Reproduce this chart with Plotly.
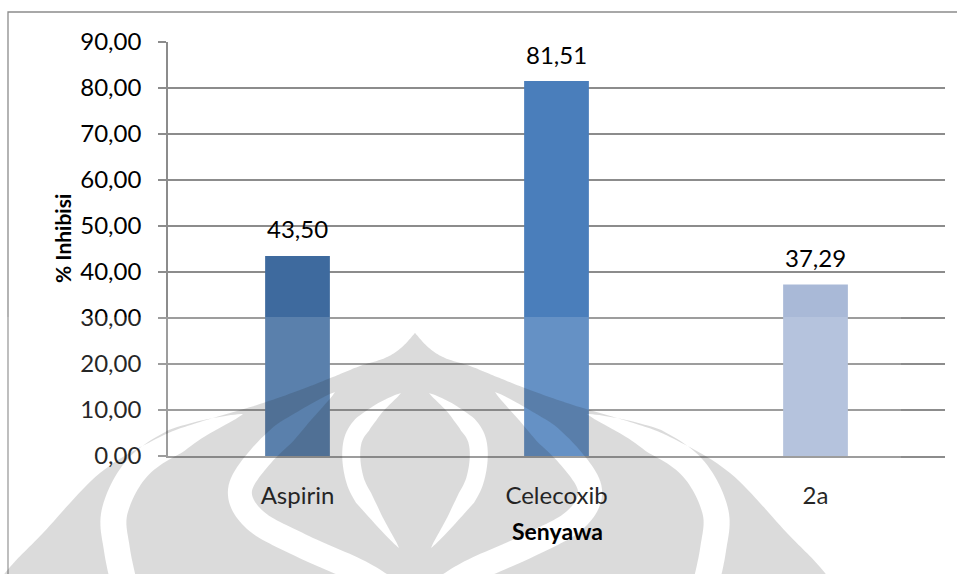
import math
import plotly.graph_objects as go

# Data
categories = ["Aspirin", "Celecoxib", "2a"]
inhibition = [43.50, 81.51, 37.29]
bar_colors = ["#3E6A9E", "#4A7EBB", "#A9B9D7"]
y_ticks = [0, 10, 20, 30, 40, 50, 60, 70, 80, 90]

W, H = 957, 574
PL, PR, PT, PB = 168, 945, 42, 456  # plot area in pixels

FONT = "Lato, Carlito, Calibri, sans-serif"
GRID = "#8c8c8c"


def px(x, y):
    """pixel position -> paper coordinates"""
    return (x - PL) / (PR - PL), (PB - y) / (PB - PT)


def spline(points, n=14):
    """Catmull-Rom curve through the given points"""
    pts = [points[0]] + list(points) + [points[-1]]
    out = []
    for i in range(1, len(pts) - 2):
        p0, p1, p2, p3 = pts[i - 1], pts[i], pts[i + 1], pts[i + 2]
        for k in range(n):
            t = k / n
            t2, t3 = t * t, t * t * t
            out.append(tuple(
                0.5 * (2 * p1[j] + (-p0[j] + p2[j]) * t
                       + (2 * p0[j] - 5 * p1[j] + 4 * p2[j] - p3[j]) * t2
                       + (-p0[j] + 3 * p1[j] - 3 * p2[j] + p3[j]) * t3)
                for j in range(2)))
    out.append(points[-1])
    return out


def ribbon(points, wmax, taper_in=0.2, taper_out=0.0):
    """closed polygon of varying width along a smooth centre line"""
    c = spline(points)
    n = len(c)
    left, right = [], []
    for i, p in enumerate(c):
        a = c[max(i - 1, 0)]
        b = c[min(i + 1, n - 1)]
        dx, dy = b[0] - a[0], b[1] - a[1]
        L = math.hypot(dx, dy) or 1.0
        nx, ny = -dy / L, dx / L
        t = i / (n - 1)
        w = wmax
        if taper_in > 0:
            w *= min(1.0, t / taper_in)
        if taper_out > 0:
            w *= min(1.0, (1 - t) / taper_out)
        w = max(w, 0.0) / 2
        left.append((p[0] + nx * w, p[1] + ny * w))
        right.append((p[0] - nx * w, p[1] - ny * w))
    return left + right[::-1]


def to_path(poly):
    s = []
    for i, (x, y) in enumerate(poly):
        u, v = px(x, y)
        s.append(("M" if i == 0 else "L") + f"{u:.5f},{v:.5f}")
    return " ".join(s) + " Z"


CX = 415


def mirror(pts):
    return [(2 * CX - x, y) for (x, y) in pts]


# watermark emblem: onion-dome silhouette with white swoops cut out (evenodd)
left_edge = [(CX, 333), (CX - 14, 348), (CX - 30, 358), (CX - 55, 366),
             (CX - 82, 377), (CX - 115, 390), (CX - 158, 405), (CX - 215, 422),
             (CX - 255, 437), (CX - 315, 473), (CX - 372, 533), (CX - 405, 567),
             (CX - 430, 600)]
le = spline(left_edge)
silhouette = mirror(le)[::-1][:-1] + le  # right side bottom->apex, then left side apex->bottom
silhouette = le[::-1] + mirror(le)[1:]

swoop_outer = [(CX - 172, 414), (CX - 225, 434), (CX - 275, 465), (CX - 300, 510),
               (CX - 298, 550), (CX - 288, 596)]
swoop_s = [(CX - 80, 392), (CX - 115, 420), (CX - 153, 455), (CX - 175, 490),
           (CX - 160, 520), (CX - 115, 545), (CX - 55, 572), (CX - 20, 594)]
leaf = [(CX - 14, 393), (CX - 40, 412), (CX - 62, 440), (CX - 60, 480),
        (CX - 40, 515), (CX - 16, 548)]

holes = []
for pts, wmax, ti, to in [(swoop_outer, 26, 0.25, 0.0),
                          (swoop_s, 24, 0.2, 0.0),
                          (leaf, 18, 0.3, 0.3)]:
    holes.append(ribbon(pts, wmax, ti, to))
    holes.append(ribbon(mirror(pts), wmax, ti, to))

logo_path = to_path(silhouette) + " " + " ".join(to_path(h) for h in holes)

shapes = [
    # white veil over the lower part
    dict(type="rect", xref="paper", yref="paper",
         x0=px(-20, 0)[0], x1=px(901, 0)[0], y0=px(0, 317)[1], y1=px(0, 600)[1],
         fillcolor="rgba(255,255,255,0.15)", line=dict(width=0), layer="above"),
    dict(type="path", xref="paper", yref="paper", path=logo_path,
         fillcolor="rgba(32,32,32,0.16)", line=dict(width=0), layer="above",
         fillrule="evenodd"),
    # chart frame
    dict(type="rect", xref="paper", yref="paper",
         x0=px(8, 0)[0], x1=px(980, 0)[0], y0=px(0, 600)[1], y1=px(0, 12)[1],
         line=dict(color="#8c8c8c", width=1.3), fillcolor="rgba(0,0,0,0)",
         layer="below"),
]

fig = go.Figure(go.Bar(
    x=categories, y=inhibition, width=0.25,
    marker=dict(color=bar_colors, line=dict(width=0)),
    hoverinfo="skip",
))

annotations = []
for cat, v in zip(categories, inhibition):
    annotations.append(dict(
        x=cat, y=v, xref="x", yref="y", text=f"{v:.2f}".replace(".", ","),
        showarrow=False, xanchor="center", yanchor="middle", yshift=27,
        font=dict(family=FONT, size=24, color="#000000")))

ax_x, ax_y = px(62, 239)
annotations.append(dict(x=ax_x, y=ax_y, xref="paper", yref="paper",
                        xanchor="center", yanchor="middle",
                        text="<b>% Inhibisi</b>", textangle=-90, showarrow=False,
                        font=dict(family=FONT, size=21, color="#000000")))
tx, ty = px(557, 531)
annotations.append(dict(x=tx, y=ty, xref="paper", yref="paper",
                        xanchor="center", yanchor="middle",
                        text="<b>Senyawa</b>", showarrow=False,
                        font=dict(family=FONT, size=23, color="#000000")))

fig.update_layout(
    width=W, height=H,
    margin=dict(l=PL, r=W - PR, t=PT, b=H - PB, pad=0),
    paper_bgcolor="white", plot_bgcolor="white",
    separators=",.",
    showlegend=False,
    bargap=0.75,
    shapes=shapes,
    annotations=annotations,
    xaxis=dict(showgrid=False, showline=True, linecolor=GRID, linewidth=1.6,
               ticks="", tickfont=dict(family=FONT, size=24, color="#000000"),
               ticklabelstandoff=17, fixedrange=True),
    yaxis=dict(range=[0, 90], tickvals=y_ticks, tickformat=".2f",
               showgrid=True, gridcolor=GRID, gridwidth=1.6,
               showline=True, linecolor=GRID, linewidth=1.6,
               ticks="outside", ticklen=8, tickcolor=GRID, tickwidth=1.6,
               zeroline=False, ticklabelstandoff=12,
               tickfont=dict(family=FONT, size=24, color="#000000"),
               fixedrange=True),
)

fig.write_html("out.html", config={"displayModeBar": False})
